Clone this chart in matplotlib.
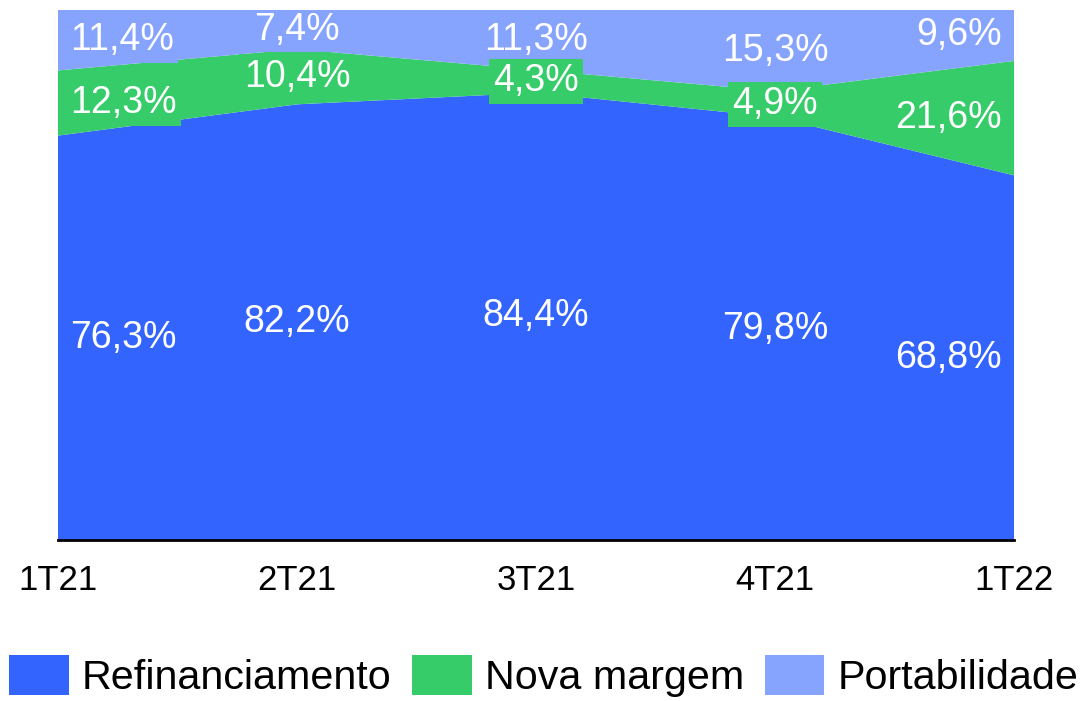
import matplotlib
matplotlib.use("Agg")
import matplotlib.pyplot as plt
import numpy as np

quarters = ["1T21", "2T21", "3T21", "4T21", "1T22"]
refinanciamento = [76.3, 82.2, 84.4, 79.8, 68.8]
nova_margem = [12.3, 10.4, 4.3, 4.9, 21.6]
portabilidade = [11.4, 7.4, 11.3, 15.3, 9.6]
series_names = ["Refinanciamento", "Nova margem", "Portabilidade"]
colors = ["#3464FE", "#36CC69", "#86A3FE"]

plt.rcParams['font.family'] = ['Liberation Sans', 'DejaVu Sans']

fig = plt.figure(figsize=(10.81, 7.01), dpi=100)
ax = fig.add_axes([58/1081, 1 - 540/701, (1014 - 58)/1081, 530/701])

x = np.arange(len(quarters))
data = [np.array(refinanciamento), np.array(nova_margem), np.array(portabilidade)]
ax.stackplot(x, *data, colors=colors, labels=series_names, linewidth=0)

ax.set_xlim(0, len(quarters) - 1)
ax.set_ylim(0, 100)
ax.set_yticks([])
for s in ["top", "right", "left"]:
    ax.spines[s].set_visible(False)
ax.spines["bottom"].set_linewidth(2)
ax.spines["bottom"].set_color("black")
ax.set_xticks(x)
ax.set_xticklabels(quarters, fontsize=25)
ax.tick_params(axis='x', length=0, pad=17)

# labels
order = [0, 2, 1]
base = np.zeros(len(quarters))
bottoms = []
for d in data:
    bottoms.append(base.copy())
    base = base + d
for si in order:
    d = data[si]
    for i in range(len(quarters)):
        yc = bottoms[si][i] + d[i] / 2
        txt = f"{d[i]:.1f}".replace(".", ",") + "%"
        if i == 0:
            xp, ha = 0.05, "left"
        elif i == len(quarters) - 1:
            xp, ha = len(quarters) - 1 - 0.05, "right"
        else:
            xp, ha = i, "center"
        ax.text(xp, yc, txt, ha=ha, va="center", color="white", fontsize=27,
                bbox=dict(boxstyle="square,pad=0.12", fc=colors[si], ec="none"),
                zorder=5 if si == 1 else 4, clip_on=True)

handles, labels = ax.get_legend_handles_labels()
fig.legend(handles, labels, loc="lower center", bbox_to_anchor=(0.503, -0.047),
           ncol=3, frameon=False, fontsize=29.7, handlelength=1.44, handleheight=1.1,
           handletextpad=0.32, columnspacing=0.5)

fig.savefig("out.png", dpi=100)
